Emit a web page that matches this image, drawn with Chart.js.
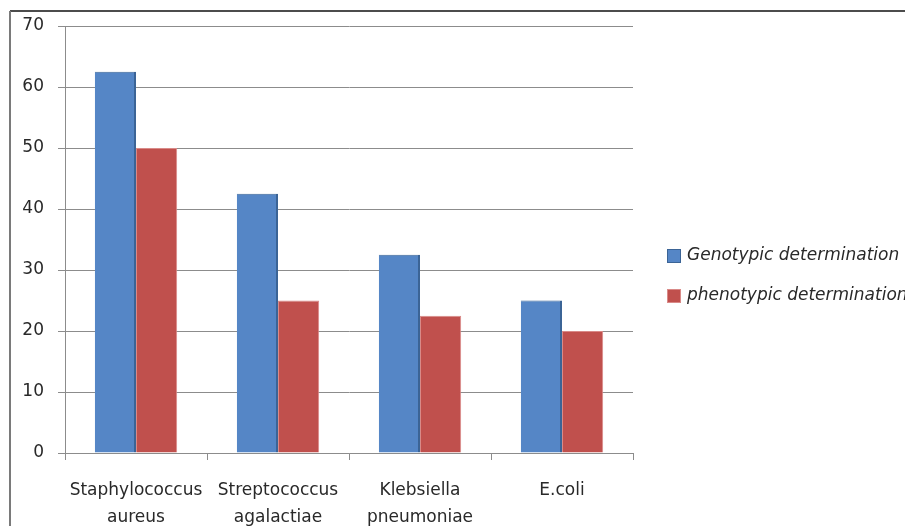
<!DOCTYPE html>
<html>
<head>
<meta charset="utf-8">
<script src="https://cdn.jsdelivr.net/npm/chart.js@4/dist/chart.umd.min.js"></script>
<style>
  html, body { margin: 0; padding: 0; background: #fff; }
  #wrap { width: 905px; height: 526px; position: relative; }
</style>
</head>
<body>
<div id="wrap"><canvas id="c" width="905" height="526"></canvas></div>
<script>
// Bacterial species on the category axis
const categories = [
  ["Staphylococcus", "aureus"],
  ["Streptococcus", "agalactiae"],
  ["Klebsiella", "pneumoniae"],
  ["E.coli"]
];
const seriesNames = ["Genotypic determination", "phenotypic determination"];
const genotypic = [62.5, 42.5, 32.5, 25];
const phenotypic = [50, 25, 22.5, 20];
const yTicks = [0, 10, 20, 30, 40, 50, 60, 70];

const FONT = "'DejaVu Sans', 'Open Sans', sans-serif";
const GRID = "#8c8c8c";
const TEXT = "#292929";

// Outer frame: dark top rule and grey left rule
const framePlugin = {
  id: "frame",
  afterDraw(chart) {
    const ctx = chart.ctx;
    ctx.save();
    ctx.strokeStyle = "#111";
    ctx.lineWidth = 1.5;
    ctx.beginPath();
    ctx.moveTo(10, 11);
    ctx.lineTo(905, 11);
    ctx.stroke();
    ctx.strokeStyle = "#7a7a7a";
    ctx.lineWidth = 2;
    ctx.beginPath();
    ctx.moveTo(10, 11);
    ctx.lineTo(10, 526);
    ctx.stroke();
    ctx.restore();
  }
};

// Legend drawn to the right of the plot, square swatch plus italic label
const sideLegend = {
  id: "sideLegend",
  afterDraw(chart) {
    const ctx = chart.ctx;
    const rows = [256, 296];
    ctx.save();
    chart.data.datasets.forEach((ds, i) => {
      const y = rows[i];
      ctx.fillStyle = ds.backgroundColor;
      ctx.fillRect(667, y - 7, 14, 14);
      ctx.strokeStyle = ds.borderColor;
      ctx.lineWidth = 1;
      ctx.strokeRect(667.5, y - 6.5, 13, 13);
      ctx.fillStyle = TEXT;
      ctx.font = "italic 17px " + FONT;
      ctx.textBaseline = "middle";
      ctx.textAlign = "left";
      ctx.fillText(ds.label, 687, y);
    });
    ctx.restore();
  }
};

new Chart(document.getElementById("c"), {
  type: "bar",
  data: {
    labels: categories,
    datasets: [
      {
        label: seriesNames[0],
        data: genotypic,
        backgroundColor: "#5586c6",
        borderColor: "#3b6496",
        borderWidth: { top: 1, right: 2, bottom: 0, left: 0 },
        borderSkipped: false
      },
      {
        label: seriesNames[1],
        data: phenotypic,
        backgroundColor: "#c0504d",
        borderColor: "#d98a88",
        borderWidth: { top: 1, right: 1, bottom: 0, left: 1 },
        borderSkipped: false
      }
    ]
  },
  options: {
    responsive: false,
    animation: false,
    devicePixelRatio: 1,
    layout: { padding: { left: 0, right: 272, top: 26, bottom: 0 } },
    plugins: { legend: { display: false }, tooltip: { enabled: false } },
    datasets: { bar: { categoryPercentage: 0.58, barPercentage: 1.0 } },
    scales: {
      x: {
        offset: true,
        grid: {
          display: true,
          drawOnChartArea: false,
          drawTicks: true,
          tickLength: 7,
          color: GRID,
          offset: true
        },
        border: { display: true, color: GRID, width: 1 },
        ticks: {
          color: TEXT,
          font: { family: FONT, size: 17, lineHeight: 1.6 },
          padding: 17,
          maxRotation: 0,
          autoSkip: false
        },
        afterFit(scale) { scale.height = 73; }
      },
      y: {
        min: 0,
        max: 70,
        afterBuildTicks(scale) { scale.ticks = yTicks.map(v => ({ value: v })); },
        grid: { color: GRID, lineWidth: 1, tickLength: 7, drawTicks: true },
        border: { display: true, color: GRID, width: 1 },
        ticks: {
          color: TEXT,
          font: { family: FONT, size: 17 },
          padding: 14
        },
        afterFit(scale) { scale.width = 65; }
      }
    }
  },
  plugins: [framePlugin, sideLegend]
});
</script>
</body>
</html>
